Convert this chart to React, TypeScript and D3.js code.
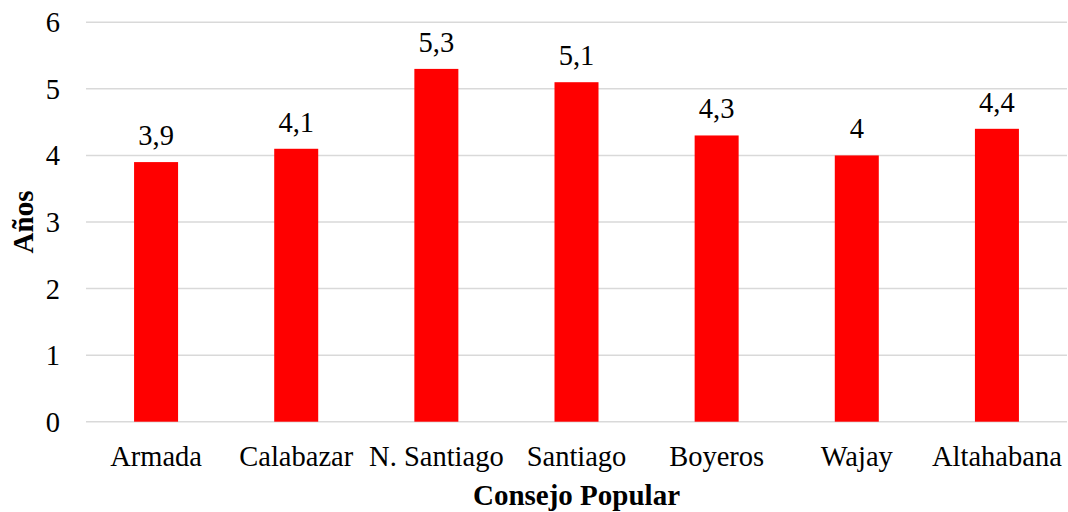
import React from "react";
import * as d3 from "d3";

const categories = ["Armada", "Calabazar", "N. Santiago", "Santiago", "Boyeros", "Wajay", "Altahabana"];
const values = [3.9, 4.1, 5.3, 5.1, 4.3, 4.0, 4.4];
const valueLabels = ["3,9", "4,1", "5,3", "5,1", "4,3", "4", "4,4"];
const yTicks = [0, 1, 2, 3, 4, 5, 6];

const W = 1068;
const H = 512;
const FONT = '"Liberation Serif", "DejaVu Serif", serif';
const txt = { fontFamily: FONT };

export default function App() {
  const left = 86, right = 1067, top = 22.3, bottom = 421.7;
  const x = d3.scaleBand<string>().domain(categories).range([left, right]).paddingInner(0.686).paddingOuter(0.343);
  const y = d3.scaleLinear().domain([0, 6]).range([bottom, top]);
  return (
    <svg width={W} height={H} style={{ position: "absolute", left: 0, top: 0, background: "#fff", fontFamily: FONT }}>
      {yTicks.map((t) => (
        <g key={t}>
          <line x1={left} x2={right} y1={y(t)} y2={y(t)} stroke="#d9d9d9" strokeWidth={1.5} />
          <text x={60} y={y(t)} dy="0.35em" textAnchor="end" fontSize={28.5} fill="#000" style={txt}>{t}</text>
        </g>
      ))}
      {categories.map((c, i) => (
        <g key={c}>
          <rect x={x(c)!} y={y(values[i])} width={x.bandwidth()} height={y(0) - y(values[i])} fill="#ff0000" />
          <text x={x(c)! + x.bandwidth() / 2} y={y(values[i]) - 17} textAnchor="middle" fontSize={28.5} fill="#000" style={txt}>{valueLabels[i]}</text>
          <text x={x(c)! + x.bandwidth() / 2} y={466} textAnchor="middle" fontSize={28.5} fill="#000" style={txt}>{c}</text>
        </g>
      ))}
      <text x={(left + right) / 2} y={505} textAnchor="middle" fontSize={29} fontWeight="bold" fill="#000" style={txt}>Consejo Popular</text>
      <text transform={`translate(33, ${(top + bottom) / 2}) rotate(-90)`} textAnchor="middle" fontSize={29} fontWeight="bold" fill="#000" style={txt}>Años</text>
    </svg>
  );
}
